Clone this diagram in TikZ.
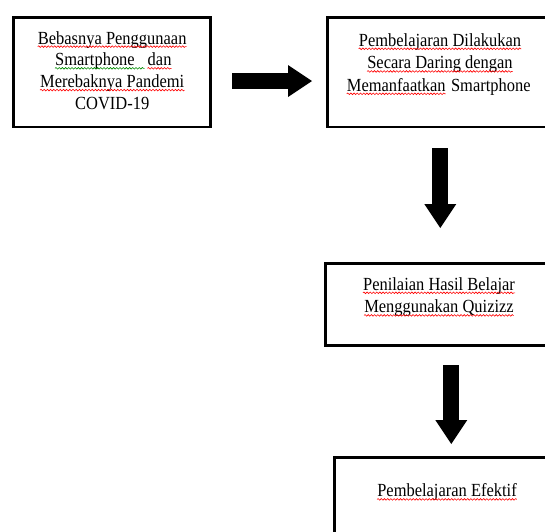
\documentclass[tikz,border=0pt]{standalone}
\usepackage{fontspec}
\setmainfont{Liberation Serif}[FakeStretch=0.89]
\usetikzlibrary{arrows.meta,decorations.pathmorphing}
\begin{document}
\begin{tikzpicture}[x=1pt,y=-1pt,
  box/.style={draw, line width=2.6pt, inner sep=0pt, anchor=north west},
  txt/.style={anchor=base, inner sep=0pt, font=\fontsize{18.5}{24}\selectfont},
  wave/.style={draw=#1, line width=0.6pt, decorate, decoration={snake, amplitude=0.8pt, segment length=3.2pt}},
  wave/.default=red,
  bigarrow/.style={line width=16pt, -{Triangle[length=24pt,width=32pt,line width=0pt]}}]
\fill[white] (0,0) rectangle (545,531);
\useasboundingbox (0,0) rectangle (545,531);
\clip (0,0) rectangle (545,531);
% boxes
\node[box, minimum width=197pt, minimum height=109.7pt] (b1) at (12.4,16) {};
\node[box, minimum width=226pt, minimum height=109.7pt] (b2) at (326,16) {};
\node[box, minimum width=228pt, minimum height=82.4pt] (b3) at (324,262) {};
\node[box, minimum width=226pt, minimum height=110pt] (b4) at (333,456) {};
% texts
\node[txt] (t1a) at (112.2,44) {Bebasnya Penggunaan};
\node[txt, anchor=base west] (t1b) at (55,65.7) {Smartphone};
\node[txt, anchor=base east] (t1e) at (171.7,65.7) {dan};
\node[txt] (t1c) at (112.2,87.5) {Merebaknya Pandemi};
\node[txt] (t1d) at (112.2,109.2) {COVID-19};
\node[txt] (t2a) at (440,46.2) {Pembelajaran Dilakukan};
\node[txt] (t2b) at (440,68.8) {Secara Daring dengan};
\node[txt, anchor=base west] (t2c) at (346.7,91.2) {Memanfaatkan};
\node[txt, anchor=base west] (t2d) at ([xshift=5pt]t2c.base east) {Smartphone};
\node[txt] (t3a) at (439,290.2) {Penilaian Hasil Belajar};
\node[txt] (t3b) at (439,312.8) {Menggunakan Quizizz};
\node[txt] (t4a) at (447,496.8) {Pembelajaran Efektif};
% spelling marks
\foreach \n in {t1a,t1e,t1c,t2a,t2b,t2c,t3a,t3b,t4a}
  \draw[wave] ([yshift=-2.6pt]\n.base west) -- ([yshift=-2.6pt]\n.base east);
\draw[wave=green!55!black] ([yshift=-2.6pt]t1b.base west) -- ([yshift=-2.6pt,xshift=-3pt]t1e.base west);
% arrows
\draw[bigarrow] ([xshift=20pt,yshift=-8.85pt]b1.east) -- ([xshift=-14pt,yshift=-8.85pt]b2.west);
\draw[bigarrow] ([yshift=-20pt]b2.south) -- ([yshift=34pt]b2.south |- b3.north);
\draw[bigarrow] ([xshift=12pt,yshift=-18pt]b3.south) -- ([xshift=12pt,yshift=12pt]b3.south |- b4.north);
\end{tikzpicture}
\end{document}
